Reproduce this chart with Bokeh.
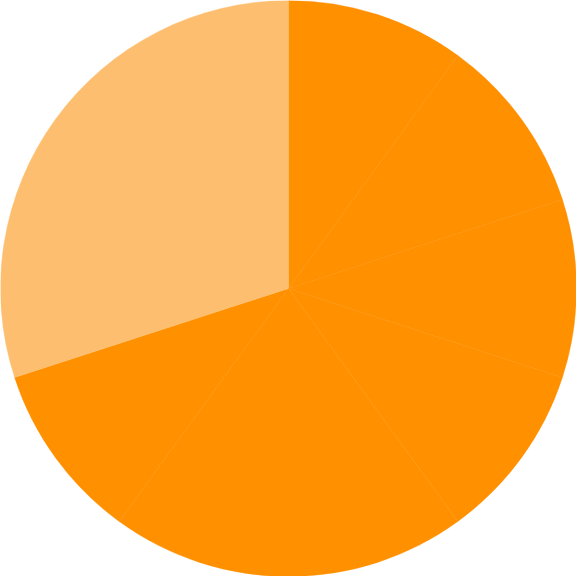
import math
from bokeh.plotting import figure
from bokeh.models import ColumnDataSource, Range1d
from bokeh.embed import file_html
from bokeh.resources import INLINE

# Slices, clockwise from 12 o'clock
categories = ["A", "B", "C", "D", "E", "F", "G"]
values = [1, 1, 1, 1, 2, 1, 3]
colors = ["#FF9000", "#FF9000", "#FF9000", "#FF9000", "#FF9000", "#FF9000", "#FDBF6F"]

total = sum(values)
starts, ends = [], []
acc = 0.0
for v in values:
    starts.append(math.pi / 2 - acc / total * 2 * math.pi)
    acc += v
    ends.append(math.pi / 2 - acc / total * 2 * math.pi)

src = ColumnDataSource(dict(cat=categories, value=values, color=colors,
                            start=starts, end=ends))

p = figure(width=576, height=576, output_backend="svg", toolbar_location=None,
           x_range=Range1d(-1, 1), y_range=Range1d(-1, 1), min_border=0)
p.wedge(x=0, y=0, radius=1.0, start_angle="start", end_angle="end",
        direction="clock", fill_color="color", line_color="color",
        line_width=0.4, source=src)
p.axis.visible = False
p.grid.visible = False
p.outline_line_color = None
p.background_fill_color = "white"

open("out.html", "w").write(file_html(p, INLINE))
